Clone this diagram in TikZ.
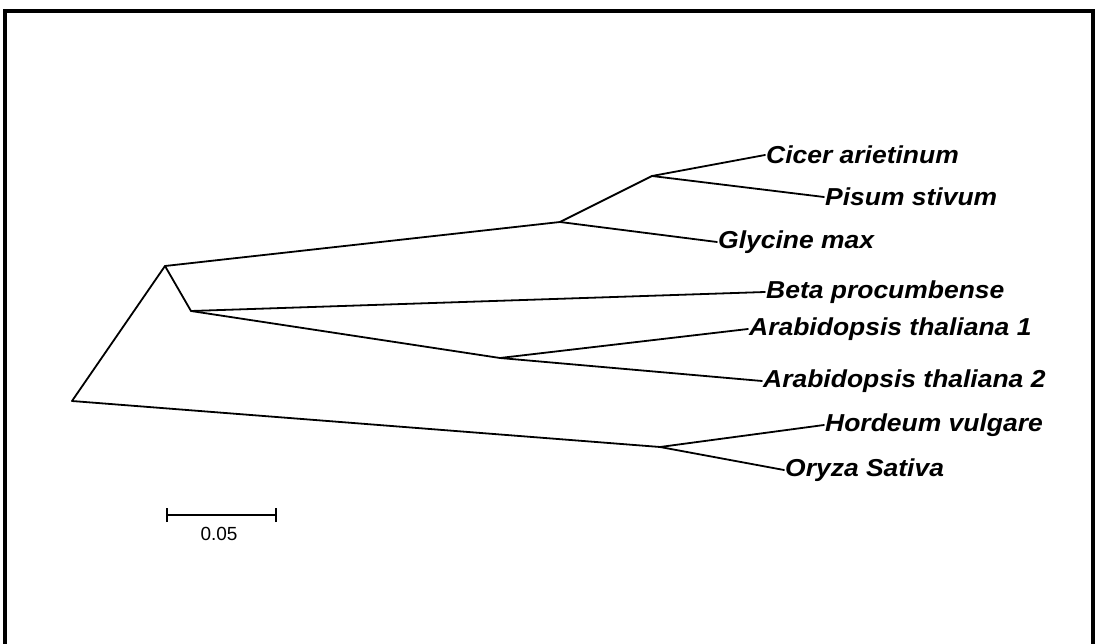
\documentclass[tikz,border=0pt]{standalone}
\usepackage{fontspec}
\setmainfont{Liberation Sans}
\newcommand{\leaftext}[1]{\scalebox{1.08}[1]{#1}}
\begin{document}
\begin{tikzpicture}[x=1pt,y=-1pt,
  branch/.style={line width=1.8pt, line cap=round, line join=round},
  leaf/.style={anchor=west, inner sep=1pt, font=\fontsize{24.5}{26}\selectfont\bfseries\itshape},
  frameline/.style={line width=4.5pt}]
\useasboundingbox (0,0) rectangle (1098,644);
% open frame
\draw[frameline] (5,644) -- (5,11) -- (1093,11) -- (1093,644);

% internal nodes of the tree
\coordinate (r) at (72,401);
\coordinate (a) at (165,266);
\coordinate (b) at (191,311);
\coordinate (c) at (560,222);
\coordinate (d) at (652,176);
\coordinate (f) at (500,358);
\coordinate (e) at (660,447);

% leaves
\node[leaf] (cicer)   at (765,155) {\leaftext{Cicer arietinum}};
\node[leaf] (pisum)   at (824,197) {\leaftext{Pisum stivum}};
\node[leaf] (glycine) at (717,242) {\leaftext{Glycine max}};
\node[leaf] (beta)    at (765,292) {\leaftext{Beta procumbense}};
\node[leaf] (arab1)   at (748,329) {\leaftext{Arabidopsis thaliana 1}};
\node[leaf] (arab2)   at (762,381) {\leaftext{Arabidopsis thaliana 2}};
\node[leaf] (hordeum) at (824,425) {\leaftext{Hordeum vulgare}};
\node[leaf] (oryza)   at (784,470) {\leaftext{Oryza Sativa}};

% branches
\draw[branch] (e) -- (r) -- (a) -- (c) -- (d) -- (cicer.west);
\draw[branch] (d) -- (pisum.west);
\draw[branch] (c) -- (glycine.west);
\draw[branch] (a) -- (b) -- (beta.west);
\draw[branch] (b) -- (f) -- (arab1.west);
\draw[branch] (f) -- (arab2.west);
\draw[branch] (e) -- (hordeum.west);
\draw[branch] (e) -- (oryza.west);

% scale bar
\coordinate (s0) at (167,515);
\coordinate (s1) at (276,515);
\draw[line width=1.8pt] (s0) -- (s1);
\draw[line width=1.5pt] ([yshift=-7pt]s0) -- ([yshift=7pt]s0);
\draw[line width=1.5pt] ([yshift=-7pt]s1) -- ([yshift=7pt]s1);
\node[font=\fontsize{19}{21}\selectfont] (scale) at (219,534) {0.05};
\end{tikzpicture}
\end{document}
